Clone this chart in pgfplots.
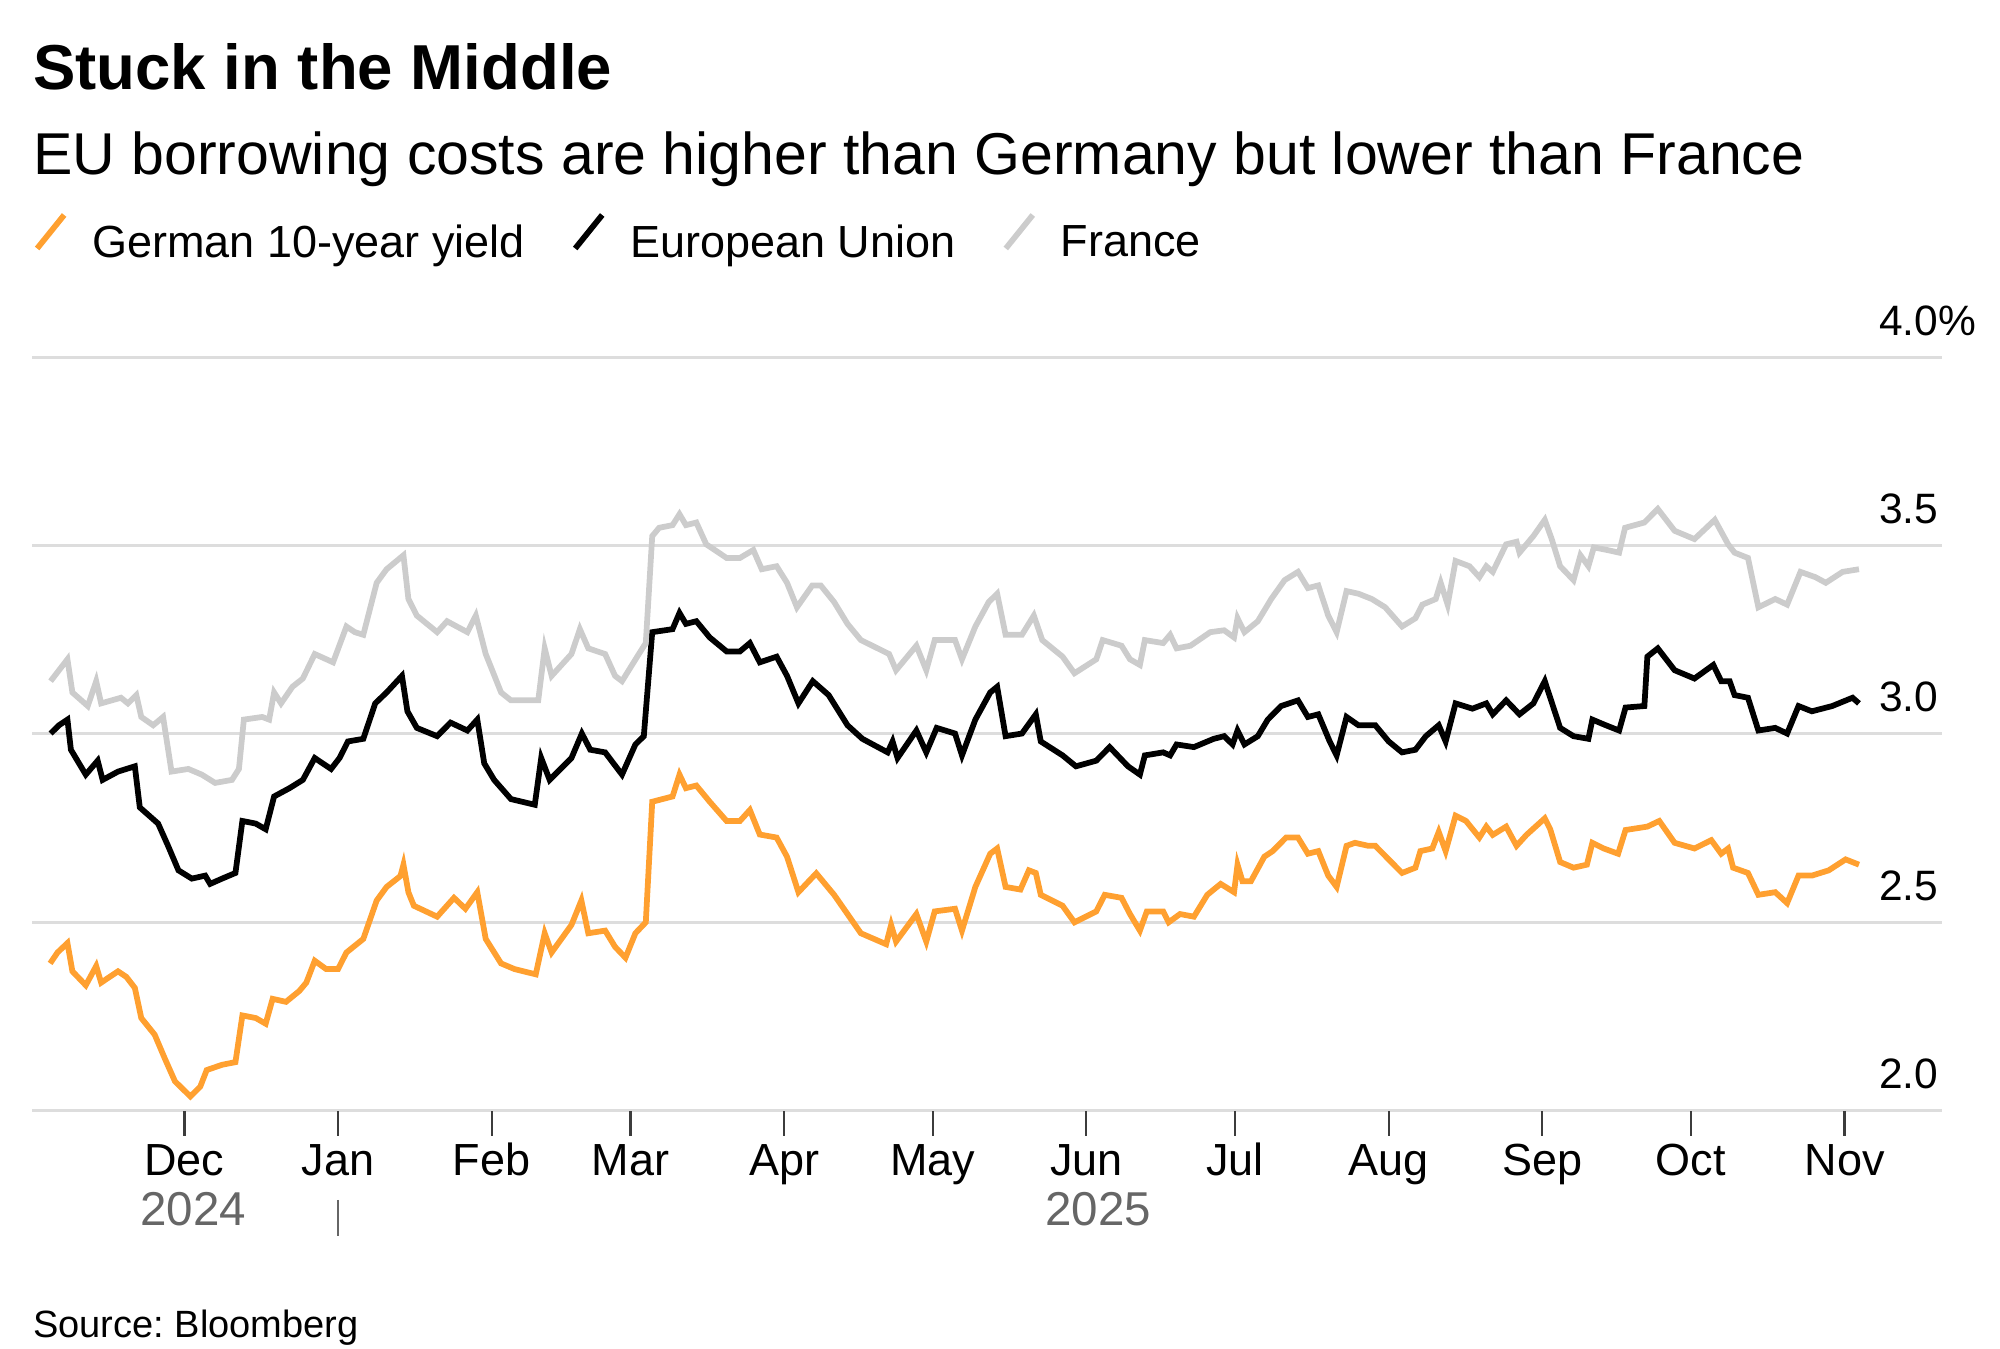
\documentclass[border=0pt]{standalone}
\usepackage{fontspec}
\setmainfont{Liberation Sans}
\usepackage{pgfplots}
\pgfplotsset{compat=1.18}

\definecolor{deorange}{RGB}{255,160,48}
\definecolor{frgray}{RGB}{204,204,204}
\definecolor{gridgray}{RGB}{221,221,221}
\definecolor{tickgray}{RGB}{60,60,60}
\definecolor{yeargray}{RGB}{102,102,102}

% x = days since 1 Dec 2024
\pgfplotstableread{
d y
-27.1 2.391
-25.6 2.420
-23.6 2.445
-22.6 2.370
-19.9 2.333
-17.8 2.384
-16.8 2.340
-13.4 2.370
-11.7 2.355
-10.0 2.326
-8.7 2.246
-6.0 2.202
-3.9 2.137
-1.9 2.078
1.2 2.038
3.2 2.064
4.5 2.108
7.6 2.122
10.3 2.129
11.7 2.253
14.4 2.246
16.4 2.231
17.8 2.297
20.5 2.289
23.2 2.318
24.6 2.340
26.3 2.398
28.6 2.376
31.0 2.376
32.7 2.420
36.1 2.456
38.8 2.558
40.8 2.594
43.6 2.623
44.2 2.653
45.2 2.580
46.3 2.544
51.0 2.515
54.4 2.565
56.7 2.536
59.1 2.580
60.8 2.456
63.9 2.391
66.6 2.376
70.9 2.362
72.7 2.471
74.1 2.420
78.1 2.493
80.1 2.558
81.5 2.471
84.9 2.478
86.9 2.435
89.0 2.406
91.0 2.471
93.1 2.500
94.4 2.820
98.5 2.834
99.9 2.892
101.2 2.856
103.3 2.863
106.0 2.820
109.4 2.769
112.1 2.769
114.1 2.798
116.1 2.733
119.5 2.725
121.6 2.674
123.9 2.580
127.5 2.630
131.1 2.573
133.8 2.522
136.5 2.471
141.6 2.442
142.6 2.493
143.6 2.449
147.7 2.522
149.7 2.449
151.4 2.529
155.5 2.536
156.9 2.478
159.6 2.594
162.6 2.682
164.0 2.696
165.7 2.594
168.7 2.587
170.4 2.638
171.8 2.631
172.8 2.573
177.2 2.544
179.6 2.500
184.0 2.529
185.7 2.573
189.1 2.565
190.8 2.522
192.8 2.478
194.2 2.529
197.5 2.529
198.6 2.500
200.9 2.522
203.7 2.515
206.4 2.573
209.1 2.602
211.8 2.580
212.5 2.653
213.5 2.609
215.2 2.609
217.9 2.674
219.6 2.689
222.3 2.725
224.7 2.725
226.7 2.682
228.8 2.689
230.8 2.624
232.5 2.594
234.5 2.703
236.2 2.711
238.9 2.703
240.3 2.703
243.0 2.667
245.7 2.631
248.4 2.645
249.4 2.689
251.8 2.696
253.1 2.740
254.5 2.689
256.5 2.783
258.6 2.769
261.3 2.725
262.7 2.754
264.0 2.732
266.7 2.754
268.8 2.703
270.8 2.732
274.5 2.776
275.6 2.747
277.6 2.660
280.3 2.645
283.0 2.653
284.1 2.711
286.4 2.696
289.3 2.682
290.8 2.745
295.2 2.754
297.6 2.769
300.7 2.711
304.7 2.696
308.1 2.718
310.1 2.682
311.5 2.696
312.5 2.645
315.5 2.631
317.6 2.573
321.0 2.580
323.4 2.551
325.7 2.624
328.4 2.624
331.8 2.638
335.2 2.667
337.9 2.653
}\germany

\pgfplotstableread{
d y
-27.0 3.001
-25.3 3.023
-23.6 3.038
-22.9 2.958
-19.9 2.892
-17.5 2.929
-16.5 2.878
-13.4 2.900
-10.0 2.914
-9.0 2.805
-5.3 2.762
-3.3 2.703
-1.2 2.638
1.5 2.616
4.2 2.624
5.2 2.602
7.6 2.616
10.3 2.631
11.7 2.769
14.4 2.762
16.4 2.747
18.1 2.834
21.2 2.856
23.9 2.878
26.3 2.936
29.6 2.907
31.3 2.936
33.0 2.980
36.1 2.987
38.5 3.081
40.8 3.110
43.9 3.154
45.0 3.060
46.9 3.016
51.0 2.994
53.7 3.030
57.1 3.009
59.1 3.038
60.5 2.922
62.5 2.878
65.9 2.827
70.7 2.812
72.0 2.936
73.7 2.878
78.1 2.936
80.2 3.001
81.9 2.958
84.9 2.951
88.3 2.892
91.0 2.972
92.7 2.994
94.4 3.270
98.5 3.278
99.9 3.321
101.2 3.292
103.3 3.299
106.0 3.256
109.4 3.219
112.1 3.219
114.1 3.241
116.1 3.190
119.5 3.205
121.6 3.154
123.9 3.081
126.8 3.140
130.0 3.103
133.8 3.023
136.8 2.987
141.9 2.951
142.9 2.980
143.9 2.936
147.7 3.009
149.7 2.951
151.8 3.016
155.5 3.001
156.9 2.943
159.6 3.038
162.6 3.110
164.0 3.125
165.7 2.994
169.0 3.001
171.8 3.052
172.8 2.980
177.2 2.943
179.9 2.914
184.0 2.929
186.7 2.965
190.4 2.914
192.8 2.892
193.8 2.943
197.5 2.951
198.9 2.943
200.2 2.972
203.7 2.965
207.7 2.987
209.8 2.994
211.5 2.972
212.5 3.009
213.9 2.972
216.6 2.994
218.6 3.038
221.3 3.074
224.7 3.089
226.7 3.045
228.8 3.052
231.1 2.980
232.5 2.943
234.5 3.045
236.9 3.023
240.3 3.023
243.0 2.980
245.7 2.951
248.4 2.958
250.5 2.994
253.1 3.023
254.5 2.980
256.5 3.081
259.9 3.067
262.7 3.081
264.0 3.052
266.7 3.089
269.4 3.052
272.2 3.081
274.5 3.140
275.6 3.096
277.6 3.016
280.3 2.994
283.3 2.987
284.1 3.038
286.8 3.023
289.5 3.009
290.8 3.070
294.6 3.074
295.2 3.205
297.3 3.227
300.7 3.169
304.7 3.147
308.5 3.183
310.1 3.140
311.8 3.140
312.8 3.103
315.5 3.096
317.6 3.009
321.0 3.016
323.4 3.001
325.7 3.074
328.4 3.060
332.5 3.074
336.6 3.096
337.9 3.081
}\eu

\pgfplotstableread{
d y
-27.0 3.140
-25.3 3.169
-23.6 3.198
-22.6 3.110
-19.5 3.074
-17.8 3.140
-16.8 3.081
-12.8 3.096
-11.4 3.081
-9.7 3.103
-8.7 3.045
-6.3 3.023
-4.3 3.045
-2.6 2.900
0.8 2.907
3.5 2.892
6.2 2.870
9.6 2.878
11.0 2.907
12.0 3.038
15.7 3.045
17.1 3.038
18.1 3.110
19.5 3.081
21.8 3.125
23.9 3.147
26.3 3.212
30.0 3.190
32.7 3.285
34.4 3.270
36.1 3.263
38.8 3.401
40.8 3.437
44.2 3.474
45.2 3.358
46.9 3.314
51.0 3.270
53.0 3.299
57.1 3.270
58.8 3.314
60.8 3.212
63.9 3.110
65.9 3.089
71.4 3.089
72.7 3.227
74.1 3.154
78.1 3.212
79.8 3.278
81.5 3.227
84.9 3.212
86.9 3.154
88.3 3.140
91.7 3.212
93.1 3.241
94.4 3.525
95.8 3.547
98.5 3.554
99.9 3.583
101.2 3.554
103.3 3.561
105.3 3.503
109.4 3.467
112.1 3.467
114.8 3.488
116.5 3.437
119.5 3.445
121.6 3.401
123.6 3.336
126.7 3.394
128.4 3.394
131.1 3.350
133.8 3.292
136.5 3.249
142.2 3.212
143.6 3.169
147.7 3.234
149.7 3.169
151.4 3.249
155.5 3.249
156.9 3.198
159.6 3.285
162.3 3.350
164.0 3.372
165.7 3.263
169.0 3.263
171.4 3.314
173.1 3.249
177.2 3.205
179.6 3.161
184.0 3.198
185.3 3.249
189.1 3.234
190.8 3.198
192.8 3.183
193.8 3.249
197.5 3.241
198.9 3.263
200.2 3.227
203.0 3.234
207.0 3.270
209.8 3.275
211.8 3.256
212.5 3.307
213.9 3.270
216.6 3.299
219.3 3.358
222.0 3.408
224.7 3.430
226.7 3.387
228.8 3.394
230.8 3.314
232.5 3.270
234.5 3.379
236.9 3.372
239.6 3.358
242.3 3.336
245.7 3.285
248.4 3.307
249.8 3.343
252.5 3.358
253.5 3.401
254.9 3.343
256.5 3.459
259.3 3.445
261.3 3.416
262.7 3.445
264.0 3.430
266.7 3.503
268.8 3.510
269.4 3.481
272.2 3.525
274.5 3.568
275.9 3.517
277.6 3.445
280.3 3.408
281.7 3.474
283.3 3.445
284.4 3.495
287.1 3.488
289.5 3.481
290.7 3.547
294.6 3.561
297.3 3.597
300.7 3.539
304.7 3.517
308.8 3.568
311.5 3.503
312.8 3.481
315.5 3.467
317.6 3.336
321.0 3.358
323.4 3.343
326.1 3.430
329.1 3.416
331.2 3.401
334.6 3.430
337.9 3.437
}\france

\begin{document}
\begin{tikzpicture}
\useasboundingbox (-6.45pt,-47.5pt) rectangle (393.45pt,222.1pt);
\begin{axis}[
  at={(0,0)}, anchor=south west,
  width=381.9pt, height=150.7pt, scale only axis,
  xmin=-30.7, xmax=354.7, ymin=2, ymax=4,
  clip=false,
  axis line style={draw=none},
  ymajorgrids, grid style={gridgray, line width=0.6pt},
  xtick={0,31,62,90,121,151,182,212,243,274,304,335},
  xticklabels={Dec,Jan,Feb,Mar,Apr,May,Jun,Jul,Aug,Sep,Oct,Nov},
  xtick pos=bottom, tick align=outside, major tick length=5pt,
  xtick style={tickgray, line width=0.45pt},
  xticklabel style={font=\fontsize{9}{11}\selectfont, inner sep=0pt, anchor=base, yshift=-7.9pt},
  ytick={2,2.5,3,3.5,4},
  yticklabels={2.0,2.5,3.0,3.5,{4.0\rlap{\%}}},
  yticklabel pos=right, ytick style={draw=none},
  yticklabel style={font=\fontsize{8.5}{10}\selectfont, inner sep=0pt, anchor=south east, xshift=-5.6pt, yshift=4.1pt},
  legend columns=-1,
  legend style={draw=none, fill=none, font=\fontsize{9}{11}\selectfont,
    at={(axis description cs:0,1)}, anchor=south west, xshift=-2.8pt, yshift=14.3pt,
    /tikz/every odd column/.append style={column sep=3pt},
    /tikz/every even column/.append style={column sep=7.5pt}},
  legend image code/.code={\draw[#1] (0pt,-0.8pt) -- (5.4pt,5.9pt);},
]
\addplot[deorange, line width=1.15pt] table[x=d, y=y] {\germany};
\addlegendentry{German 10-year yield}
\addplot[black, line width=1.15pt] table[x=d, y=y] {\eu};
\addlegendentry{European Union}
\addplot[frgray, line width=1.15pt] table[x=d, y=y] {\france};
\addlegendentry{France}

\node[anchor=base, inner sep=0pt, font=\fontsize{9.5}{11}\selectfont, text=yeargray] at ([yshift=-23pt]axis cs:1.8,2) {2024};
\node[anchor=base, inner sep=0pt, font=\fontsize{9.5}{11}\selectfont, text=yeargray] at ([yshift=-23pt]axis cs:184.4,2) {2025};
\draw[yeargray, line width=0.5pt] ([yshift=-17.8pt]axis cs:31,2) -- ([yshift=-25pt]axis cs:31,2);
\end{axis}

\node[anchor=base west, inner sep=0pt, font=\fontsize{12.7}{15}\selectfont\bfseries] at (0pt,204.1pt) {Stuck in the Middle};
\node[anchor=base west, inner sep=0pt, font=\fontsize{11.8}{14}\selectfont] at (0pt,187.3pt) {EU borrowing costs are higher than Germany but lower than France};
\node[anchor=base west, inner sep=0pt, font=\fontsize{7.6}{9}\selectfont] at (0pt,-45.4pt) {\frenchspacing Source: Bloomberg};
\end{tikzpicture}
\end{document}
